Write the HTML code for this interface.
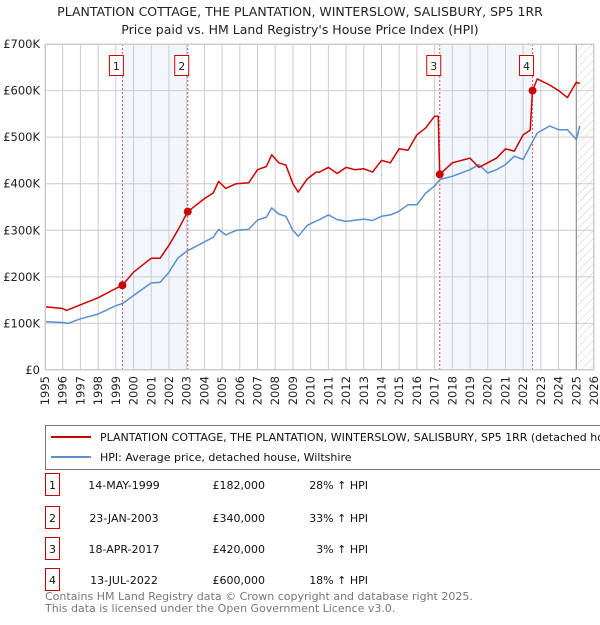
<!DOCTYPE html>
<html><head><meta charset="utf-8"><style>
body{margin:0;background:#fff;font-family:"Liberation Sans","DejaVu Sans",sans-serif;}
svg text{font-family:"DejaVu Sans","Liberation Sans",sans-serif;}
</style></head><body>
<svg id="c" width="600" height="620" viewBox="0 0 600 620" xmlns="http://www.w3.org/2000/svg">
<defs><pattern id="hatch" width="6" height="6" patternUnits="userSpaceOnUse" patternTransform="rotate(45)"><line x1="0" y1="0" x2="0" y2="6" stroke="#ccc" stroke-width="1"/></pattern></defs>
<text x="300" y="16" text-anchor="middle" font-size="12.5" fill="#222">PLANTATION COTTAGE, THE PLANTATION, WINTERSLOW, SALISBURY, SP5 1RR</text>
<text x="300" y="34" text-anchor="middle" font-size="12.5" fill="#222">Price paid vs. HM Land Registry's House Price Index (HPI)</text>
<g id="plot"></g>
<g>
<rect x="45.5" y="425.5" width="560" height="44" fill="#fff" stroke="#777"/>
<line x1="51" y1="437" x2="91" y2="437" stroke="#cc0000" stroke-width="2"/>
<text x="100" y="441" font-size="11" fill="#111">PLANTATION COTTAGE, THE PLANTATION, WINTERSLOW, SALISBURY, SP5 1RR (detached house)</text>
<line x1="51" y1="457" x2="91" y2="457" stroke="#5b8fd0" stroke-width="2"/>
<text x="100" y="461" font-size="11" fill="#111">HPI: Average price, detached house, Wiltshire</text>
</g>
<g id="table"></g>
<text x="45" y="600" font-size="11" fill="#777">Contains HM Land Registry data © Crown copyright and database right 2025.</text>
<text x="45" y="612" font-size="11" fill="#777">This data is licensed under the Open Government Licence v3.0.</text>
</svg>
<script>
const yTicks=[0,100,200,300,400,500,600,700];
const yLabels=["£0","£100K","£200K","£300K","£400K","£500K","£600K","£700K"];
const years=[1995,1996,1997,1998,1999,2000,2001,2002,2003,2004,2005,2006,2007,2008,2009,2010,2011,2012,2013,2014,2015,2016,2017,2018,2019,2020,2021,2022,2023,2024,2025,2026];
const hpiT=[1995,1996,1996.3,1997,1998,1999,1999.4,2000,2001,2001.5,2002,2002.5,2003,2004,2004.5,2004.8,2005.2,2005.8,2006.5,2007,2007.5,2007.8,2008.2,2008.6,2009,2009.3,2009.8,2010.2,2010.5,2011,2011.5,2012,2013,2013.5,2014,2014.5,2015,2015.5,2016,2016.5,2017,2017.3,2018,2019,2019.5,2020,2020.5,2021,2021.5,2022,2022.5,2022.8,2023.5,2024,2024.5,2025,2025.2];
const hpiV=[104,102,100,110,120,138,143,160,187,188,210,240,255,275,285,302,290,300,302,322,328,348,335,330,300,287,310,318,323,333,323,319,324,321,330,333,341,355,355,380,395,409,416,430,441,423,430,441,459,452,488,509,524,516,516,495,524,520];
const priceT=[1995,1996,1996.2,1997,1998,1999,1999.37,2000,2001,2001.5,2002,2002.5,2003.06,2004,2004.5,2004.8,2005.2,2005.8,2006.5,2007,2007.5,2007.8,2008.2,2008.6,2009,2009.3,2009.8,2010.3,2010.5,2011,2011.5,2012,2012.5,2013,2013.5,2014,2014.5,2015,2015.5,2016,2016.5,2017,2017.2,2017.29,2018,2019,2019.5,2020,2020.5,2021,2021.5,2022,2022.4,2022.53,2022.8,2023.5,2024,2024.5,2025,2025.2];
const priceV=[136,132,128,140,155,175,182,210,240,240,268,300,340,368,380,405,390,400,402,430,437,462,445,440,400,382,410,425,425,435,422,435,430,432,425,450,445,475,472,505,520,545,545,420,445,455,435,445,455,475,470,505,515,600,625,612,600,585,618,615];
const saleT=[1999.37,2003.06,2017.29,2022.53];
const saleV=[182,340,420,600];
const saleLabels=["1","2","3","4"];
const saleDates=["14-MAY-1999","23-JAN-2003","18-APR-2017","13-JUL-2022"];
const salePrices=["£182,000","£340,000","£420,000","£600,000"];
const salePct=["28% ↑ HPI","33% ↑ HPI","3% ↑ HPI","18% ↑ HPI"];

const X0=45,X1=594,Y0=370,Y1=44;
const x=t=>X0+(t-1995)/(2026-1995)*(X1-X0);
const y=v=>Y0-v/700*(Y0-Y1);
const NS="http://www.w3.org/2000/svg";
function mk(tag,attrs,parent){const e=document.createElementNS(NS,tag);for(const k in attrs)e.setAttribute(k,attrs[k]);parent.appendChild(e);return e;}
const g=document.getElementById('plot');
for(let i=0;i<saleT.length;i+=2){const r=mk('rect',{x:x(saleT[i]),y:Y1,width:x(saleT[i+1])-x(saleT[i]),height:Y0-Y1,fill:'#f2f6fd'},g);

}
const hz=mk('rect',{x:x(2025),y:Y1,width:X1-x(2025),height:Y0-Y1,fill:'url(#hatch)'},g);


years.forEach(yr=>{const l=mk('line',{x1:x(yr),x2:x(yr),y1:Y1,y2:Y0,stroke:'#ccc','stroke-width':1},g);


const t=mk('text',{x:0,y:0,'font-size':11.5,fill:'#222','text-anchor':'end',transform:`translate(${x(yr)+4},${Y0+6}) rotate(-90)`},g);t.textContent=yr;

});
yTicks.forEach((v,i)=>{const l=mk('line',{x1:X0,x2:X1,y1:y(v),y2:y(v),stroke:'#ccc','stroke-width':1},g);


const t=mk('text',{x:X0-5,y:y(v)+4,'font-size':11.5,fill:'#222','text-anchor':'end'},g);t.textContent=yLabels[i];

});
const vl=mk('line',{x1:x(2025),x2:x(2025),y1:Y1,y2:Y0,stroke:'#888','stroke-width':1},g);


saleT.forEach((t,i)=>{const l=mk('line',{x1:x(t),x2:x(t),y1:Y1,y2:Y0,stroke:'#e05060','stroke-width':1,'stroke-dasharray':'2,2'},g);

});
function path(T,V,col,name){const d=T.map((t,i)=>(i?'L':'M')+x(t).toFixed(1)+','+y(V[i]).toFixed(1)).join('');
const p=mk('path',{d:d,fill:'none',stroke:col,'stroke-width':1.5,'stroke-linejoin':'round'},g);

}
path(hpiT,hpiV,'#5b8fd0','hpi-line');
path(priceT,priceV,'#cc0000','property-price-line');
saleT.forEach((t,i)=>{const c=mk('circle',{cx:x(t),cy:y(saleV[i]),r:4,fill:'#cc0000'},g);


const r=mk('rect',{x:x(t)-13,y:55.5,width:14,height:20,fill:'#fff',stroke:'#cc0000'},g);


const tx=mk('text',{x:x(t)-6,y:70,'font-size':11,fill:'#222','text-anchor':'middle'},g);tx.textContent=saleLabels[i];

});
mk('rect',{x:X0+0.5,y:Y1+0.5,width:X1-X0-1,height:Y0-Y1-1,fill:'none',stroke:'#ccc'},g);
const tb=document.getElementById('table');
const rowY=[487,520,551,582];
rowY.forEach((ry,i)=>{const r=mk('rect',{x:45.5,y:ry-13.5,width:14,height:22,fill:'#fff',stroke:'#cc0000'},tb);


const a=mk('text',{x:52.5,y:ry+2,'font-size':11,fill:'#111','text-anchor':'middle'},tb);a.textContent=saleLabels[i];


const b=mk('text',{x:124,y:ry+2,'font-size':11,fill:'#111','text-anchor':'middle'},tb);b.textContent=saleDates[i];


const c=mk('text',{x:265,y:ry+2,'font-size':11,fill:'#111','text-anchor':'end'},tb);c.textContent=salePrices[i];


const d=mk('text',{x:368,y:ry+2,'font-size':11,fill:'#111','text-anchor':'end'},tb);d.textContent=salePct[i];

});
</script>
</body></html>
